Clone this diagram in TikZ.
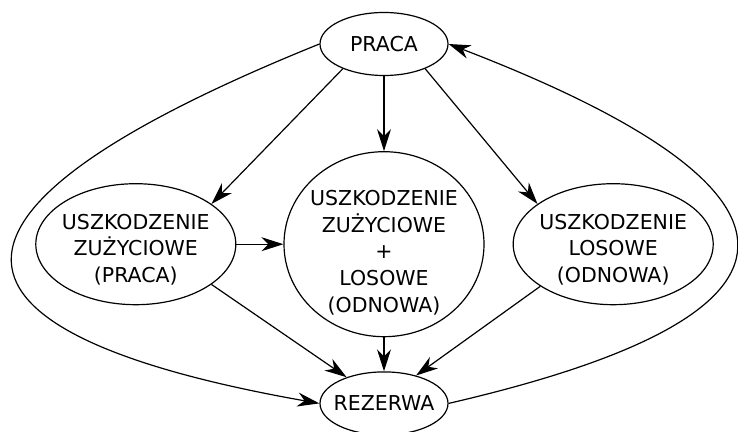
\documentclass[tikz,border=0pt]{standalone}
\usepackage{fontspec}
\setmainfont{DejaVu Sans}
\usetikzlibrary{arrows.meta,positioning,shapes.geometric}
\tikzset{
  st/.style={draw,ellipse,line width=1.2pt,inner sep=-10pt,align=center},
  small/.style={st,minimum width=128pt,minimum height=63pt},
  big/.style={st,minimum width=200pt,minimum height=121pt},
  ar/.style={-{Stealth[length=22pt,width=14pt,inset=7pt]},line width=1.2pt},
}

\begin{document}
\begin{tikzpicture}[x=1pt,y=1pt,font=\fontsize{20.5}{26.7}\selectfont]
\useasboundingbox (0,0) rectangle (738,431);
\node[small] (praca) at (384,387) {PRACA};
\node[st,minimum width=200pt,minimum height=185pt,below=75pt of praca] (mix) {\rule{0pt}{32pt}USZKODZENIE\\ZUŻYCIOWE\\+\\LOSOWE\\(ODNOWA)};
\node[big,left=47pt of mix] (zuz) {\rule{0pt}{26pt}USZKODZENIE\\ZUŻYCIOWE\\(PRACA)};
\node[big,right=28pt of mix] (los) {\rule{0pt}{26pt}USZKODZENIE\\LOSOWE\\(ODNOWA)};
\node[small,below=34pt of mix] (rez) {REZERWA};
\draw[ar] (praca.211) -- (zuz.28);
\draw[ar] (praca) -- (mix);
\draw[ar] (praca.329) -- (los.152);
\draw[ar] (zuz) -- (mix);
\draw[ar] (zuz.332) -- (rez.145);
\draw[ar] (mix) -- (rez);
\draw[ar] (los.210) -- (rez.41);
\draw[ar] (praca.west) .. controls +(202:510pt) and +(170:345pt) .. (rez.west);
\draw[ar] (rez.east) .. controls +(13:465pt) and +(-21:330pt) .. (praca.east);
\end{tikzpicture}
\end{document}
